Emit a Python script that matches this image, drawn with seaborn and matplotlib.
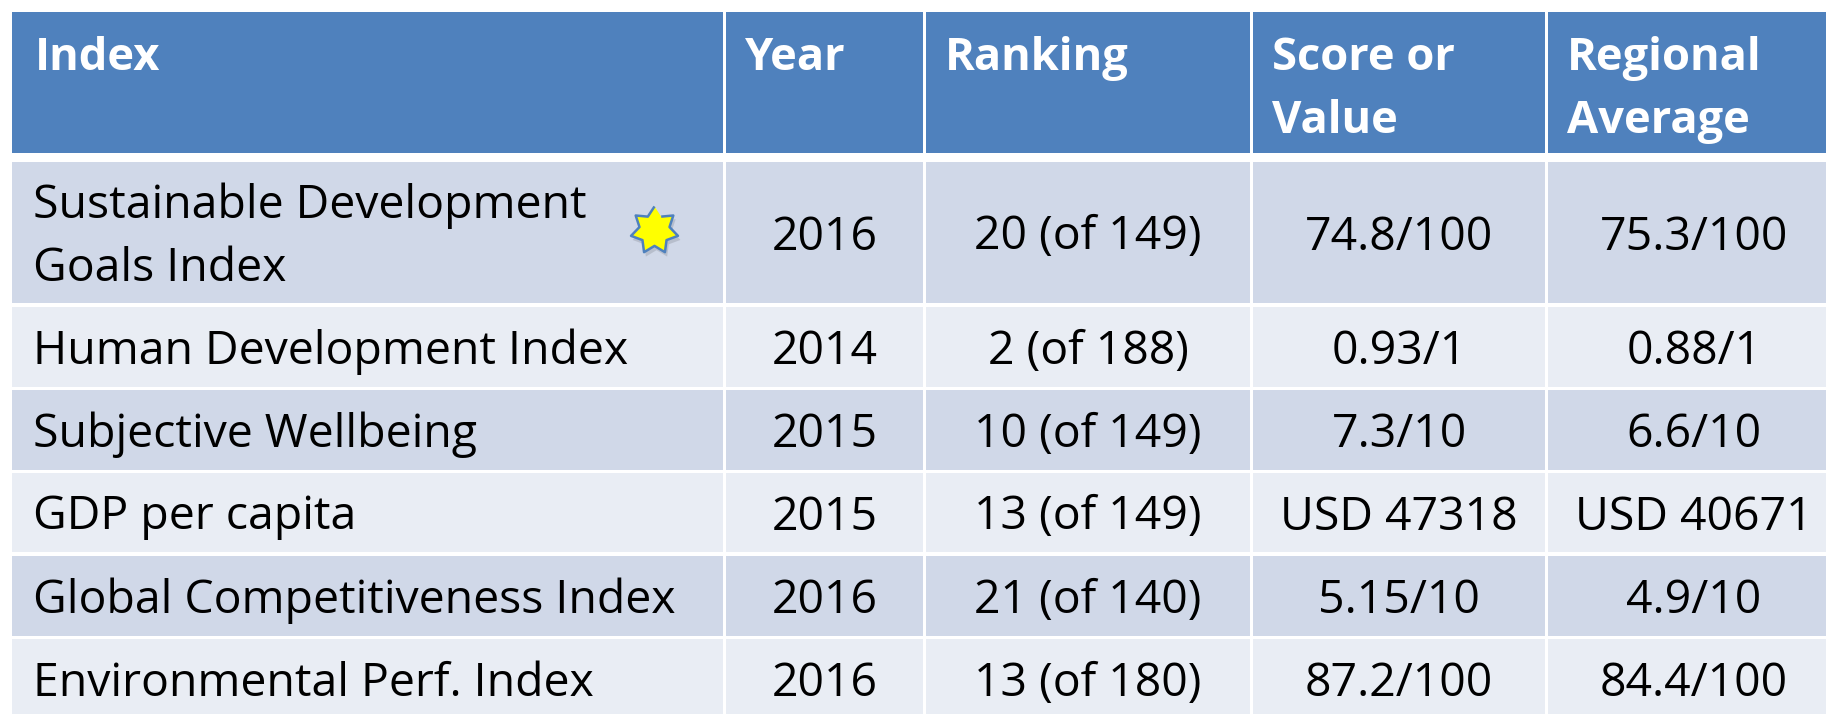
import numpy as np
import pandas as pd
import matplotlib.pyplot as plt
import seaborn as sns

# table content
headers = ["Index", "Year", "Ranking", "Score or\nValue", "Regional\nAverage"]
indices = ["Sustainable Development\nGoals Index", "Human Development Index",
           "Subjective Wellbeing", "GDP per capita",
           "Global Competitiveness Index", "Environmental Perf. Index"]
years = ["2016", "2014", "2015", "2015", "2016", "2016"]
rankings = ["20 (of 149)", "2 (of 188)", "10 (of 149)", "13 (of 149)",
            "21 (of 140)", "13 (of 180)"]
scores = ["74.8/100", "0.93/1", "7.3/10", "USD 47318", "5.15/10", "87.2/100"]
regional = ["75.3/100", "0.88/1", "6.6/10", "USD 40671", "4.9/10", "84.4/100"]
starred = ["Sustainable Development\nGoals Index"]

table = pd.DataFrame({"Index": indices, "Year": years, "Ranking": rankings,
                      "Score": scores, "Regional": regional})

# layout in pixels
col_left = np.array([12, 726, 926, 1253, 1548])
col_right = np.array([723, 923, 1250, 1545, 1840])
row_top = np.array([12, 162, 307, 390, 473, 556, 639])
row_h = np.array([141, 141, 80, 80, 79, 80, 80])

HEAD = "#4F81BD"
DARK = "#D0D8E8"
LIGHT = "#E9EDF4"

sns.set_theme(style="white")
plt.rcParams['font.family'] = ['Open Sans', 'DejaVu Sans']

fig = plt.figure(figsize=(18.26, 7.14), dpi=100)
ax = fig.add_axes([0, 0, 1, 1])

# cells
for r in range(len(row_top)):
    color = HEAD if r == 0 else (DARK if r % 2 == 1 else LIGHT)
    ax.bar(col_left, row_h[r], width=col_right - col_left, bottom=row_top[r],
           align='edge', color=color, linewidth=0)

body_size = 33.4
head_size = 32.6
line_step = 63

# header
for c, h in enumerate(headers):
    x = 35 if c == 0 else col_left[c] + 19
    for k, line in enumerate(h.split("\n")):
        ax.text(x, 70 + k * line_step, line, color="white", fontsize=head_size,
                fontweight="bold", ha="left", va="baseline")

# body
for i, row in table.iterrows():
    top = row_top[i + 1]
    center = top + row_h[i + 1] / 2
    lines = row["Index"].split("\n")
    base0 = center + 17 - (len(lines) - 1) * line_step / 2
    for k, line in enumerate(lines):
        ax.text(33, base0 + k * line_step, line, color="black",
                fontsize=body_size, ha="left", va="baseline")
    for c, key in enumerate(["Year", "Ranking", "Score", "Regional"], start=1):
        xc = (col_left[c] + col_right[c]) / 2
        ax.text(xc, center + 17, row[key], color="black", fontsize=body_size,
                ha="center", va="baseline")

# star marker next to the SDG index
ang = np.pi / 2 + np.arange(14) * np.pi / 7
rad = np.where(np.arange(14) % 2 == 0, 1.0, 0.64)
star = np.column_stack([rad * np.cos(ang), rad * np.sin(ang)])
star_rows = table[table["Index"].isin(starred)].index
star_df = pd.DataFrame({"x": [654] * len(star_rows),
                        "y": [row_top[i + 1] + row_h[i + 1] / 2 - 3 for i in star_rows]})
sns.scatterplot(data=star_df.assign(x=star_df.x + 2, y=star_df.y + 4), x="x", y="y",
                marker=star, s=1250, color="#8a8f99", alpha=0.35, linewidth=0,
                ax=ax, legend=False)
sns.scatterplot(data=star_df, x="x", y="y", marker=star, s=1200, color="#FFFF00",
                edgecolor=HEAD, linewidth=1.8, ax=ax, legend=False)
ax.set_xlim(0, 1826)
ax.set_ylim(714, 0)
ax.axis('off')

fig.savefig("out.png", dpi=100)
